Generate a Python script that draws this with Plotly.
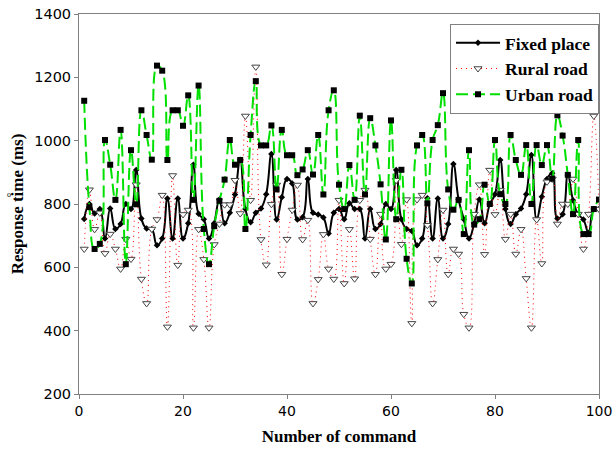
import plotly.graph_objects as go

commands = list(range(1, 101))

fixed_place = [753, 800, 770, 784, 691, 786, 721, 737, 800, 784,
               907, 754, 723, 720, 670, 691, 817, 691, 817, 691,
               739, 924, 769, 752, 691, 739, 814, 739, 772, 830,
               940, 784, 742, 772, 786, 831, 958, 751, 821, 879,
               865, 751, 758, 879, 772, 767, 757, 707, 772, 784,
               752, 802, 784, 784, 691, 784, 721, 737, 800, 784,
               907, 752, 721, 715, 670, 691, 818, 691, 817, 691,
               737, 926, 814, 752, 691, 739, 814, 739, 800, 831,
               939, 784, 737, 768, 786, 831, 955, 751, 823, 879,
               897, 754, 768, 891, 812, 767, 751, 709, 784, 784]

rural_road = [658, 845, 720, 772, 644, 705, 658, 595, 689, 626,
              861, 563, 486, 721, 751, 828, 412, 890, 607, 767,
              781, 409, 720, 625, 409, 672, 737, 798, 798, 875,
              770, 1078, 812, 1233, 688, 608, 799, 860, 578, 689,
              781, 860, 688, 749, 486, 562, 704, 595, 563, 812,
              549, 720, 564, 812, 844, 689, 578, 768, 595, 610,
              875, 673, 814, 423, 814, 828, 733, 486, 625, 781,
              578, 658, 642, 452, 409, 768, 861, 641, 907, 767,
              844, 689, 768, 642, 720, 565, 409, 751, 612, 870,
              879, 737, 800, 800, 879, 768, 658, 768, 1078, 784]

urban_road = [1126, 790, 658, 674, 1002, 924, 813, 1034, 610, 970,
              799, 1096, 1018, 940, 1237, 1221, 939, 1096, 1096, 1047,
              1143, 813, 1174, 721, 610, 730, 810, 877, 1002, 924,
              939, 721, 1018, 1188, 985, 985, 1048, 846, 1034, 954,
              954, 891, 909, 970, 893, 1018, 830, 1096, 1159, 861,
              784, 923, 813, 1079, 830, 1071, 985, 862, 688, 1064,
              752, 908, 627, 549, 985, 1018, 802, 1002, 1049, 1150,
              846, 782, 813, 705, 970, 735, 752, 861, 800, 1002,
              831, 800, 1018, 939, 892, 986, 800, 986, 923, 986,
              880, 1080, 1016, 892, 768, 1002, 705, 705, 784, 814]

x_ticks = [0, 20, 40, 60, 80, 100]
y_ticks = [200, 400, 600, 800, 1000, 1200, 1400]

serif = "Liberation Serif"
sans = "DejaVu Sans"

fig = go.Figure()

fig.add_trace(go.Scatter(
    x=commands, y=fixed_place, name="Fixed place", mode="lines+markers",
    line=dict(color="black", width=2, shape="spline", smoothing=1.3),
    marker=dict(symbol="diamond", size=5, color="black"),
))
fig.add_trace(go.Scatter(
    x=commands, y=rural_road, name="Rural road", mode="lines+markers",
    line=dict(color="red", width=1, dash="1px,4px", shape="spline", smoothing=1.3),
    marker=dict(symbol="triangle-down", size=7, color="white",
                line=dict(color="#444444", width=1)),
))
fig.add_trace(go.Scatter(
    x=commands, y=urban_road, name="Urban road", mode="lines+markers",
    line=dict(color="#00e000", width=2, dash="12px,5px", shape="spline", smoothing=1.3),
    marker=dict(symbol="square", size=6, color="black"),
))

fig.update_layout(
    width=613, height=449,
    margin=dict(l=79, r=14, t=14, b=55, autoexpand=False),
    paper_bgcolor="white", plot_bgcolor="white",
    showlegend=True,
    legend=dict(
        x=1.0, y=0.974, xanchor="right", yanchor="top",
        bgcolor="white", bordercolor="#808080", borderwidth=1,
        font=dict(family=serif, size=17.5, color="black", weight="bold"),
        tracegroupgap=0, itemwidth=44,
    ),
    font=dict(family=sans, size=14, color="black"),
    xaxis=dict(
        range=[0, 100], tickvals=x_ticks, ticktext=[str(v) for v in x_ticks],
        showgrid=False, zeroline=False, automargin=False,
        showline=True, linecolor="#808080", linewidth=1, mirror=True,
        ticks="outside", ticklen=4, tickcolor="#808080",
        ticklabeloverflow="allow",
        tickfont=dict(family=sans, size=14),
        title=dict(text="Number of command",
                   font=dict(family=serif, size=17, weight="bold"), standoff=12),
    ),
    yaxis=dict(
        range=[200, 1400], tickvals=y_ticks, ticktext=[str(v) for v in y_ticks],
        showgrid=False, zeroline=False, automargin=False,
        showline=True, linecolor="#808080", linewidth=1, mirror=True,
        ticks="outside", ticklen=4, tickcolor="#808080",
        ticklabeloverflow="allow",
        tickfont=dict(family=sans, size=14.5),
        title=dict(text="Response time (ms)",
                   font=dict(family=serif, size=17, weight="bold"), standoff=6),
    ),
)

fig.add_annotation(
    x=-0.142, y=0.526, xref="paper", yref="paper", text="o", showarrow=False,
    font=dict(family=serif, size=8, color="black"),
)

fig.write_html(
    "out.html",
    config={"displayModeBar": False},
    post_script="document.body.style.margin='0';document.body.style.overflow='hidden';",
)
